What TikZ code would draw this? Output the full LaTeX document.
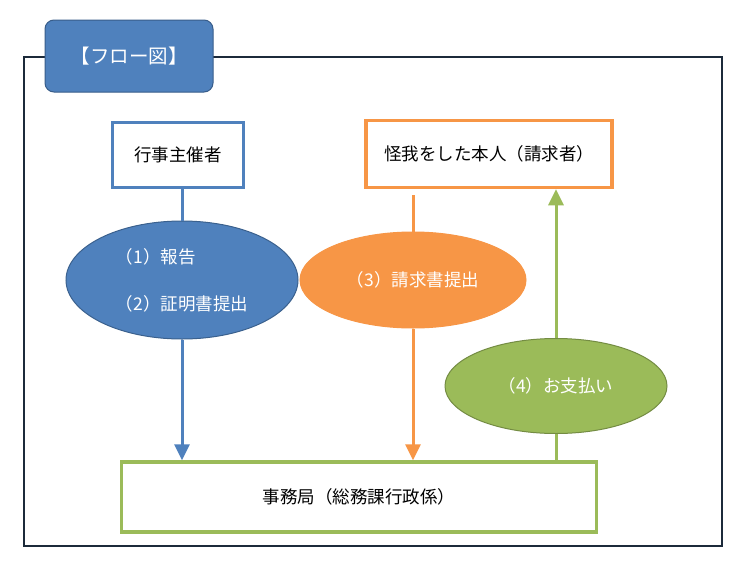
\documentclass[tikz,border=0pt]{standalone}
\usepackage{fontspec}
\setmainfont{Noto Sans CJK JP}
\usepackage{tikz}
\usetikzlibrary{arrows.meta,shapes.geometric}
\definecolor{FlowBlue}{HTML}{4F81BD}
\definecolor{FlowBlueDark}{HTML}{385D8A}
\definecolor{FlowOrange}{HTML}{F79646}
\definecolor{FlowGreen}{HTML}{9BBB59}
\definecolor{FlowGreenDark}{HTML}{71893F}
\definecolor{FlowNavy}{HTML}{1C2A3A}
\tikzset{
  fbox/.style={draw=#1,fill=white,line width=3.5pt,align=center,inner sep=0pt,font=\fontsize{17.5}{22}\selectfont},
  fellipse/.style={ellipse,draw=#1!75!black,fill=#1,line width=1pt,align=center,inner sep=0pt,text=white,font=\fontsize{17.5}{22}\selectfont},
  flink/.style={draw=#1,line width=3pt},
  farrow/.style={-{Triangle[length=16pt,width=15pt]},draw=#1,line width=3pt}
}

\begin{document}
\begin{tikzpicture}[x=1pt,y=-1pt]
  \useasboundingbox[fill=white] (0,0) rectangle (745,571);
  % outer frame and title
  \draw[FlowNavy,line width=2pt] (24,57) rectangle (722,546);
  \node[draw=FlowBlueDark,fill=FlowBlue,rounded corners=9pt,line width=1pt,minimum width=168pt,minimum height=72pt,text=white,font=\fontsize{19.5}{24}\selectfont] (title) at (129,56) {【フロー図】};
  % boxes
  \node[fbox=FlowBlue,minimum width=131pt,minimum height=65pt] (host) at (178,155) {行事主催者};
  \node[fbox=FlowOrange,minimum width=246pt,minimum height=67pt] (claimant) at (489,154) {怪我をした本人（請求者）};
  \node[fbox=FlowGreen,minimum width=475pt,minimum height=70pt] (office) at (359,497) {事務局（総務課行政係）};
  % ellipses
  \node[fellipse=FlowBlue,align=left,minimum width=232pt,minimum height=118pt] (report) at (182,280) {（1）報告\\[25pt]（2）証明書提出};
  \node[fellipse=FlowOrange,minimum width=226pt,minimum height=96pt,draw=FlowOrange] (claim) at (413,280) {（3）請求書提出};
  \node[fellipse=FlowGreen,minimum width=222pt,minimum height=95pt] (pay) at (556,386) {（4）お支払い};
  % connectors
  \draw[flink=FlowBlue] (report.north |- host.south) -- (report.north);
  \draw[farrow=FlowBlue] (report.south) -- (report.south |- office.north);
  \draw[flink=FlowOrange,shorten <=6pt] (claim.north |- claimant.south) -- (claim.north);
  \draw[farrow=FlowOrange] (claim.south) -- (claim.south |- office.north);
  \draw[flink=FlowGreen] (pay.south |- office.north) -- (pay.south);
  \draw[farrow=FlowGreen] (pay.north) -- (pay.north |- claimant.south);
\end{tikzpicture}
\end{document}
